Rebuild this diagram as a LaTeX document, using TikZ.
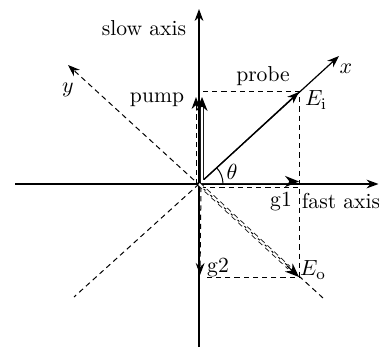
\documentclass[tikz,border=0pt]{standalone}
\usepackage{tikz}
\usetikzlibrary{arrows.meta,calc}

\begin{document}
\begin{tikzpicture}[
  x=0.5pt, y=-0.5pt,
  axisline/.style={line width=0.6pt, -{Stealth[length=6pt, width=4.4pt]}},
  dashline/.style={line width=0.5pt, dash pattern=on 2.6pt off 2pt},
  dasharrow/.style={dashline, -{Stealth[length=6pt, width=4.4pt]}},
  dblline/.style={line width=0.45pt, double, double distance=1.1pt, draw=black!90},
  tipline/.style={line width=0.6pt, -{Stealth[length=7pt, width=5.6pt]}},
  lbl/.style={font=\fontsize{10.8}{12}\selectfont, inner sep=0pt},
]
\useasboundingbox (0,0) rectangle (379,347);

% --- Points ---
\coordinate (O) at (199,184);
\coordinate (hl) at (15,184);
\coordinate (hr) at (378.5,184);
\coordinate (vb) at (199,347);
\coordinate (vt) at (199,9);
\coordinate (xend) at (339,56);
\coordinate (xtail) at (74,297);
\coordinate (yend) at (68,65);
\coordinate (ytail) at (323,298);
\coordinate (Ei) at (299,92);
\coordinate (Eo) at (299,277);

% --- Axis ---
\draw[axisline] (hl) -- (hr);
\draw[axisline] (vb) -- (vt);

% x and y
\draw[axisline] (O) -- (xend);
\draw[axisline] (O) -- (Ei);
\draw[dashline] (O) -- (xtail);
\draw[dasharrow] (ytail) -- (yend);

% --- Projections ---
\coordinate (rtop) at (203,92);
\coordinate (rbot) at (205,277);
\draw[dashline] (rtop) -- (Ei) -- (Eo) -- (rbot);

% pump
\coordinate (pumpA0) at (202,182);
\coordinate (pumpA1) at (202,97);
\coordinate (pumpB0) at (196,184);
\coordinate (pumpB1) at (196,97);
\draw[dblline] (pumpA0) -- ($(pumpA1)+(0,8)$);
\draw[tipline] ($(pumpA1)+(0,10)$) -- (pumpA1);
\draw[dasharrow] (pumpB0) -- (pumpB1);

% g1
\coordinate (g1A0) at (201,181.5);
\coordinate (g1A1) at (299,181.5);
\coordinate (g1B0) at (201,187);
\coordinate (g1B1) at (299,187);
\draw[dblline] (g1A0) -- ($(g1A1)+(-8,0)$);
\draw[tipline] ($(g1A1)+(-10,0)$) -- (g1A1);
\draw[dashline] (g1B0) -- (g1B1);

% g2
\coordinate (g2A0) at (201,187);
\coordinate (g2A1) at (200,275);
\draw[dasharrow] (g2A0) -- (g2A1);

% output
\draw[dblline, dash pattern=on 2.6pt off 2pt] (O) -- ($(O)!0.9!(Eo)$);
\draw[tipline] ($(O)!0.88!(Eo)$) -- (Eo);

% angle
\draw[line width=0.5pt] (O) ++(24,0) arc[start angle=0, end angle=-42.5, radius=24];

% --- Labels ---
\node[lbl] (slow) at (144,28) {slow axis};
\node[lbl] (fast) at (341,201) {fast axis};
\node[lbl] (pump) at (157,100) {pump};
\node[lbl] (probe) at (263,76) {probe};
\node[lbl] (ylab) at (68,90) {$y$};
\node[lbl] (xlab) at (346,69) {$x$};
\node[lbl] (Eilab) at (316,100) {$E_{\mathrm{i}}$};
\node[lbl] (Eolab) at (313,270) {$E_{\mathrm{o}}$};
\node[lbl] (theta) at (232,172) {$\theta$};
\node[lbl] (g1) at (281,202) {g1};
\node[lbl] (g2) at (218,268) {g2};

\end{tikzpicture}
\end{document}
